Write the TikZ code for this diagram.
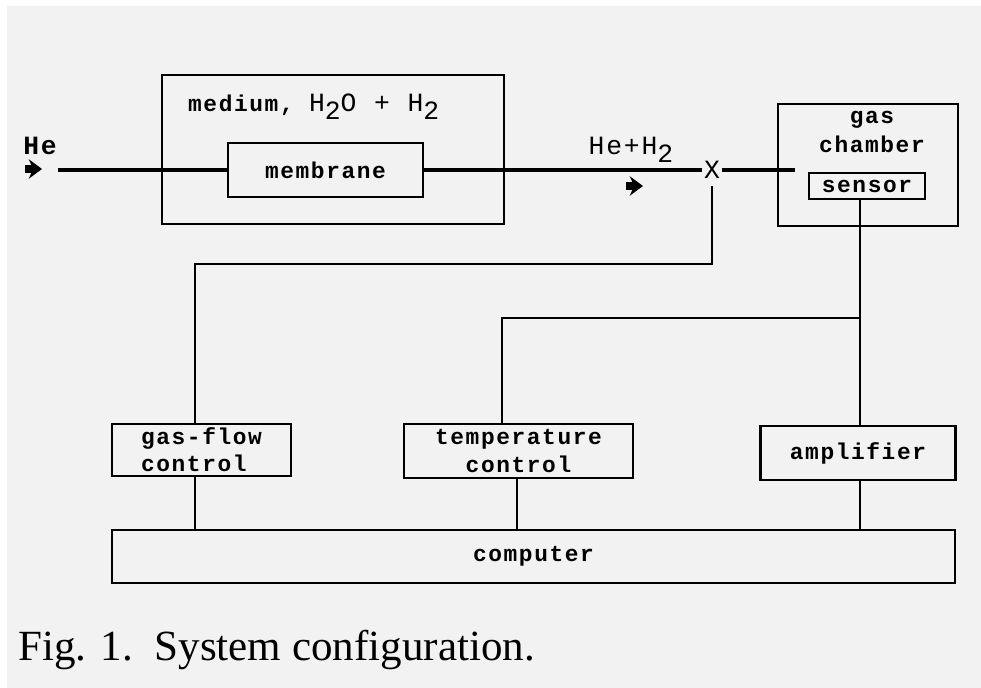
\documentclass[tikz,border=0pt]{standalone}
\usepackage{fontspec}
\setmainfont{Liberation Serif}
\newfontfamily\plotfont[LetterSpace=7]{Liberation Mono}
\usetikzlibrary{arrows.meta}
\newcommand{\subdos}{\raisebox{-0.55ex}{2}}
\newcommand{\formula}{\fontsize{15}{17}\selectfont\mdseries}

\begin{document}
\begin{tikzpicture}[x=0.02cm, y=-0.02cm,
    caja/.style={draw, line width=1.3pt, inner sep=0pt},
    texto/.style={font=\plotfont\bfseries\fontsize{13}{15.5}\selectfont},
    tubo/.style={line width=2.4pt},
    linea/.style={line width=1.1pt},
    flecha/.style={-{Stealth[length=7.5pt,width=11pt]}, line width=4pt}]

    % Fondo de la hoja
    \fill[white] (0,0) rectangle (981,688);
    \fill[black!5] (7,6) rectangle (981,688);
    \useasboundingbox (0,0) rectangle (981,688);

    % Recipiente con el medio y la membrana
    \node[caja, minimum width=6.84cm, minimum height=2.98cm] (medium) at (333,149.5) {};
    \node[texto, anchor=west] (mediumtxt) at (182,107) {medium, {\formula H\subdos O + H\subdos}};
    \node[caja, texto, minimum width=3.9cm, minimum height=1.08cm] (membrane) at (325.5,170) {membrane};

    % Camara de gas con el sensor
    \node[caja, minimum width=3.6cm, minimum height=2.44cm] (chamber) at (868,165) {};
    \node[texto, align=center, font=\plotfont\bfseries\fontsize{13}{17}\selectfont] (chambertxt) at (872,132) {gas\\chamber};
    \node[caja, texto, minimum width=2.32cm, minimum height=0.52cm] (sensor) at (867,186) {sensor};

    % Tubo de gas
    \coordinate (entrada) at (58,170);
    \node[texto, inner sep=1pt] (valve) at (712,170) {{\formula X}};
    \coordinate (salida) at (795,170);
    \draw[tubo] (entrada) -- (membrane.west);
    \draw[tubo] (membrane.east) -- (valve.west);
    \draw[tubo] (valve.east) -- (salida);

    % Etiquetas del flujo
    \node[texto] (he) at (40,146) {{\formula\bfseries He}};
    \node[texto] (mezcla) at (631,150) {{\formula He+H\subdos}};
    \path (he) ++(-15,23) coordinate (hecola);
    \path (mezcla) ++(-5,36) coordinate (mezclacola);
    \draw[flecha] (hecola) -- ++(17,0);
    \draw[flecha] (mezclacola) -- ++(17,0);

    % Bloques de control
    \node[caja, texto, align=left, minimum width=3.58cm, minimum height=1.04cm] (gasflow) at (201.5,450) {gas-flow\\control};
    \node[caja, texto, align=center, minimum width=4.58cm, minimum height=1.08cm] (temperature) at (518.5,451) {temperature\\control};
    \node[caja, texto, minimum width=3.9cm, minimum height=1.08cm] (amplifier) at (858,453) {amplifier};
    \node[caja, texto, minimum width=16.86cm, minimum height=1.06cm] (computer) at (533.5,556.5) {computer};

    % Conexiones
    \coordinate (codo) at (195,264);
    \coordinate (nudo) at (860,318);
    \draw[linea, shorten <=3pt] (valve.south) |- (codo) -- (codo |- gasflow.north);
    \draw[linea] (codo |- gasflow.south) -- (codo |- computer.north);
    \draw[linea] (sensor.south -| nudo) -- (nudo |- amplifier.north);
    \draw[linea] (nudo) -| ([xshift=-0.33cm]temperature.north);
    \draw[linea] ([xshift=-0.03cm]temperature.south) -- ([xshift=-0.03cm]temperature.south |- computer.north);
    \draw[linea] (nudo |- amplifier.south) -- (nudo |- computer.north);

    % Pie de figura
    \node[anchor=base west, inner sep=0pt, font=\fontsize{24.5}{29}\selectfont] (caption) at (18,661) {Fig. 1.\ \ System configuration.};
\end{tikzpicture}
\end{document}
